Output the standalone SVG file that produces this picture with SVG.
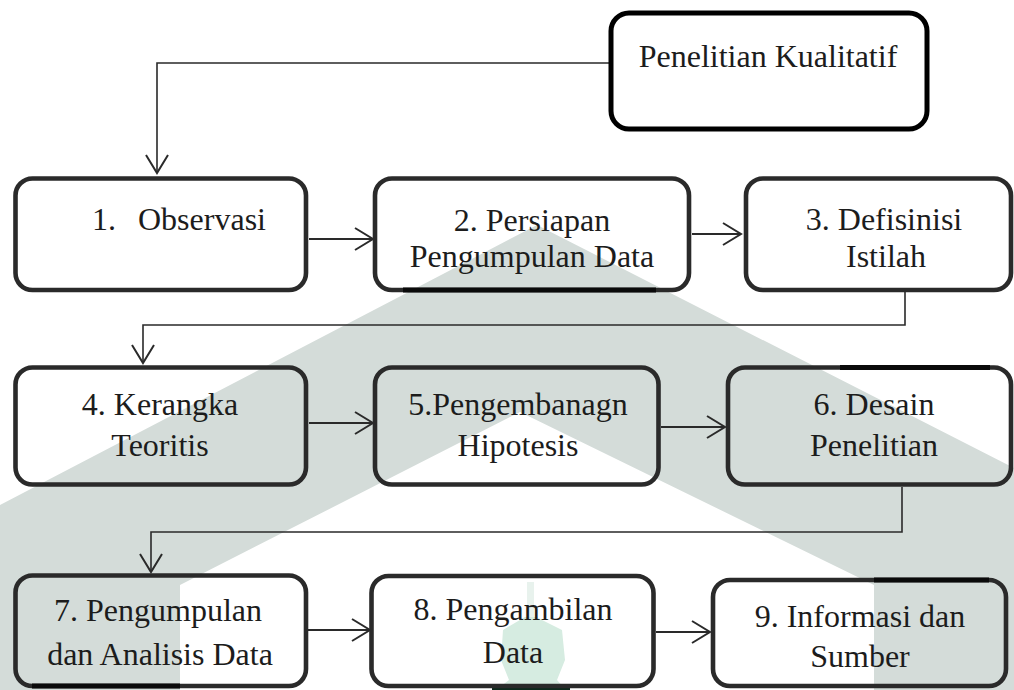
<svg xmlns="http://www.w3.org/2000/svg" width="1014" height="690" viewBox="0 0 1014 690">
<defs>
<style>
.box{fill:none;stroke:#2a2a2a;stroke-width:4.6}
.top{fill:none;stroke:#000;stroke-width:5}
.dk{fill:none;stroke:#0a0a0a;stroke-width:5}
.lbl{font-family:"Liberation Serif","Times New Roman",serif;font-size:32px;fill:#1c1c1c;text-anchor:middle}
.cn{fill:none;stroke:#2a2a2a;stroke-width:1.6}
.ar{fill:none;stroke:#2a2a2a;stroke-width:2.2}
</style>
<marker id="ah" markerUnits="userSpaceOnUse" markerWidth="24" markerHeight="28" refX="19" refY="12" orient="auto">
<path d="M1,1 L19,12 L1,23" fill="none" stroke="#2a2a2a" stroke-width="2"/>
</marker>
</defs>
<rect width="1014" height="690" fill="#fff"/>
<g id="watermark">
<polygon points="537,225 1014,468 1014,690 874,690 874,585 520,412 180,585 180,690 0,690 0,505" fill="#d4dcd9"/>
<rect x="527" y="582" width="7" height="38" fill="#e8f2ed"/>
<polygon points="525,617 536,617 562,630 565,660 557,680 566,690 496,690 509,680 501,660 503,630" fill="#d6ece1"/>
<rect x="492" y="687" width="78" height="3" fill="#0d2a1d"/>
</g>
<g id="connectors">
<path class="cn" d="M609,63 H157 V173" marker-end="url(#ah)"/>
<path class="ar" d="M309,239 H373" marker-end="url(#ah)"/>
<path class="ar" d="M692,234 H741" marker-end="url(#ah)"/>
<path class="cn" d="M905,292 V325 H143 V363" marker-end="url(#ah)"/>
<path class="ar" d="M309,423 H373" marker-end="url(#ah)"/>
<path class="ar" d="M661,427 H725" marker-end="url(#ah)"/>
<path class="cn" d="M902,487 V532 H151 V572" marker-end="url(#ah)"/>
<path class="ar" d="M308,630 H370" marker-end="url(#ah)"/>
<path class="ar" d="M656,632 H710" marker-end="url(#ah)"/>
</g>
<g id="node-penelitian">
<rect class="top" x="611" y="13" width="316" height="116" rx="18"/>
<text class="lbl" x="768" y="67">Penelitian Kualitatif</text>
</g>
<g id="node-1">
<rect class="box" x="15.5" y="178.5" width="290.5" height="111.5" rx="17"/>
<text class="lbl" style="text-anchor:start"><tspan x="92" y="230">1.</tspan><tspan x="138" y="230">Observasi</tspan></text>
</g>
<g id="node-2">
<rect class="box" x="375" y="178.5" width="314" height="111.5" rx="17"/>
<path class="dk" d="M403,290 H656"/>
<text class="lbl" x="532" y="231">2. Persiapan</text>
<text class="lbl" x="532" y="267">Pengumpulan Data</text>
</g>
<g id="node-3">
<rect class="box" x="746" y="178.5" width="265" height="111.5" rx="17"/>
<text class="lbl" x="884" y="230">3. Defisinisi</text>
<text class="lbl" x="886" y="267">Istilah</text>
</g>
<g id="node-4">
<rect class="box" x="15.5" y="367.5" width="290.5" height="117" rx="17"/>
<text class="lbl" x="160" y="415">4. Kerangka</text>
<text class="lbl" x="160" y="456">Teoritis</text>
</g>
<g id="node-5">
<rect class="box" x="375" y="367.5" width="283.5" height="117" rx="17"/>
<text class="lbl" x="518" y="415">5.Pengembanagn</text>
<text class="lbl" x="518" y="456">Hipotesis</text>
</g>
<g id="node-6">
<rect class="box" x="728" y="367.5" width="283" height="117" rx="17"/>
<path class="dk" d="M840,367.5 H990"/>
<text class="lbl" x="874" y="415">6. Desain</text>
<text class="lbl" x="874" y="456">Penelitian</text>
</g>
<g id="node-7">
<rect class="box" x="15.5" y="575.5" width="290.5" height="110.5" rx="17"/>
<path class="dk" d="M32,686 H180"/>
<text class="lbl" x="158" y="621">7. Pengumpulan</text>
<text class="lbl" x="160" y="665">dan Analisis Data</text>
</g>
<g id="node-8">
<rect class="box" x="371.5" y="576" width="282" height="110" rx="17"/>
<text class="lbl" x="513" y="620">8. Pengambilan</text>
<text class="lbl" x="513" y="663">Data</text>
</g>
<g id="node-9">
<rect class="box" x="713" y="580" width="293" height="106" rx="17"/>
<path class="dk" d="M874,580 H989"/>
<text class="lbl" x="860" y="627">9. Informasi dan</text>
<text class="lbl" x="860" y="667">Sumber</text>
</g>
</svg>
